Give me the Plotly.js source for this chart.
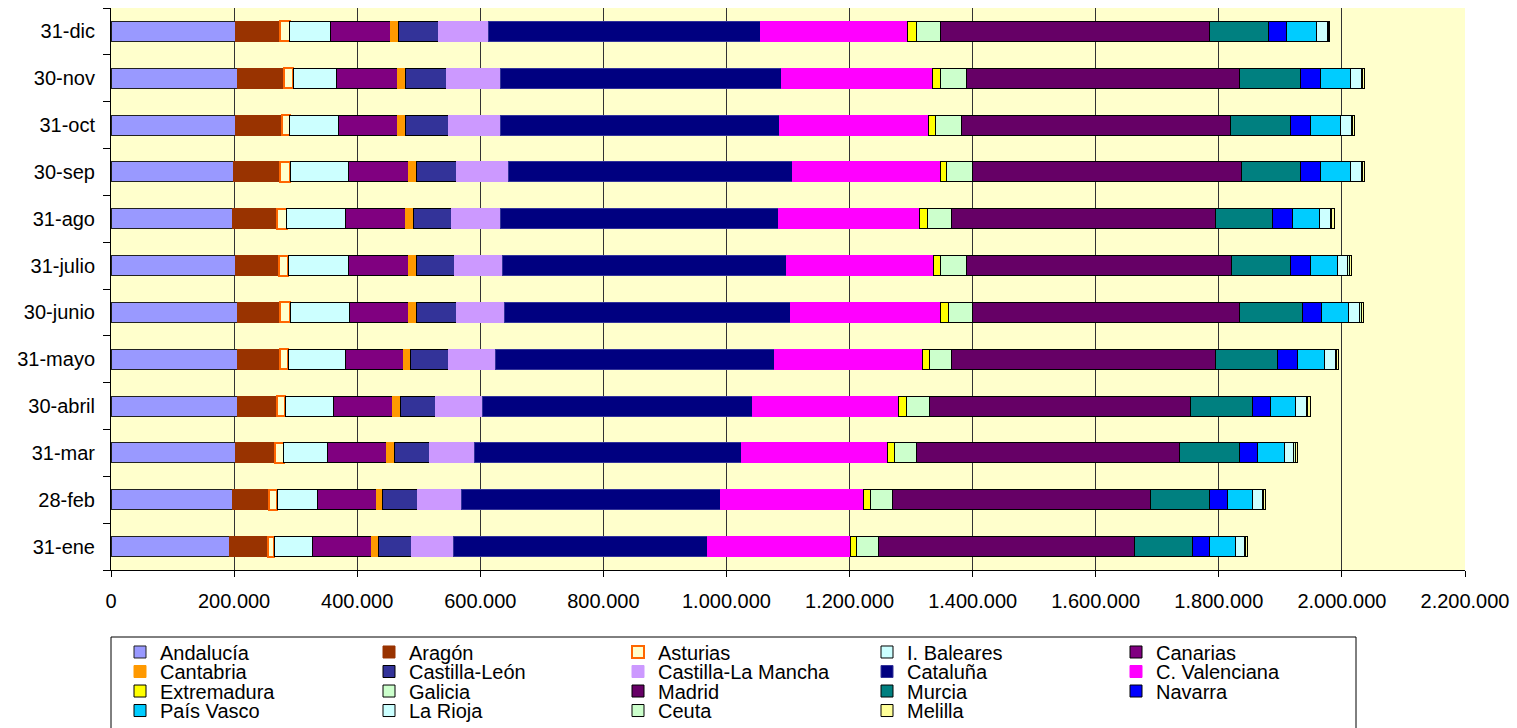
<!DOCTYPE html>
<html>
<head>
<meta charset="utf-8">
<script src="https://cdn.plot.ly/plotly-3.0.1.min.js"></script>
<style>html,body{margin:0;padding:0;background:#fff;}#chart{width:1517px;height:728px;}</style>
</head>
<body>
<div id="chart"></div>
<script>
// Categories, bottom to top
const months = ['31-ene','28-feb','31-mar','30-abril','31-mayo','30-junio','31-julio','31-ago','30-sep','31-oct','30-nov','31-dic'];

const andalucia   = [191800,197100,202000,204800,204800,204800,202000,197100,199400,202000,204800,201500];
const aragon      = [62900,60100,65000,65000,70400,70400,70500,73100,75700,75900,75900,73600];
const asturias    = [10200,13000,13700,13500,13000,15800,15600,15300,15800,12500,15600,15300];
const baleares    = [62900,65700,70900,78700,92100,97000,97000,94700,94300,78500,70500,65500];
const canarias    = [95200,95200,95400,95200,94700,95200,97500,97500,97500,95900,98500,98600];
const cantabria   = [10900,10400,13000,13000,10900,13700,14100,13500,14100,13500,13000,13000];
const castLeon    = [54800,56900,56900,56900,62200,64400,61100,62400,64400,69900,67300,65000];
const castMancha  = [68300,70900,73600,75900,75900,78700,79100,78500,84500,84000,86600,80600];
const cataluna    = [412800,420900,433400,438800,454500,464800,459900,452200,461500,453900,456600,441500];
const valenciana  = [231200,232400,237700,237700,239900,242600,239400,229100,240000,242800,245400,239400];
const extremadura = [10900,10900,10900,13700,10900,13500,10900,13000,10900,10700,13000,14100];
const galicia     = [34600,35800,35800,36200,36200,39000,42300,39700,41600,42300,42300,39000];
const madrid      = [416000,419300,427400,424100,429700,433900,431800,429000,436600,436600,444100,437100];
const murcia      = [95400,95900,98000,101200,100800,101900,95900,92600,95900,98600,98600,95900];
const navarra     = [27000,28800,28800,29300,31400,31400,31400,31900,32500,32500,32500,29300];
const paisVasco   = [41800,41600,44400,41300,43900,43900,44400,43900,48800,47600,48800,48800];
const rioja       = [14600,15300,14600,16700,17900,17900,16900,17400,17900,17900,17900,17900];
const ceuta       = [2400,2300,2500,2600,2500,2500,2600,2700,2400,2200,2300,1500];
const melilla     = [3600,3500,3500,3900,3500,3500,3900,3800,3600,3200,3500,3000];

const xTicks = [0,200000,400000,600000,800000,1000000,1200000,1400000,1600000,1800000,2000000,2200000];

const series = [
  ['Andalucía', andalucia, '#9999FF', '#222222', 1],
  ['Aragón', aragon, '#993300', '#993300', 1],
  ['Asturias', asturias, '#FFFFCC', '#FF6600', 2],
  ['I. Baleares', baleares, '#CCFFFF', '#000000', 1],
  ['Canarias', canarias, '#800080', '#000000', 1],
  ['Cantabria', cantabria, '#FF9900', '#FF9900', 1],
  ['Castilla-León', castLeon, '#333399', '#000000', 1],
  ['Castilla-La Mancha', castMancha, '#CC99FF', '#CC99FF', 1],
  ['Cataluña', cataluna, '#000080', '#333399', 1],
  ['C. Valenciana', valenciana, '#FF00FF', '#FF00FF', 1],
  ['Extremadura', extremadura, '#FFFF00', '#000000', 1],
  ['Galicia', galicia, '#CCFFCC', '#000000', 1],
  ['Madrid', madrid, '#660066', '#000000', 1],
  ['Murcia', murcia, '#008080', '#000000', 1],
  ['Navarra', navarra, '#0000FF', '#000000', 1],
  ['País Vasco', paisVasco, '#00CCFF', '#000000', 1],
  ['La Rioja', rioja, '#CCFFFF', '#000000', 1],
  ['Ceuta', ceuta, '#CCFFCC', '#000000', 1],
  ['Melilla', melilla, '#FFFF99', '#000000', 1]
];

const legendIds = ['legend','legend2','legend3','legend4'];

const traces = series.map((s, i) => ({
  type: 'bar',
  orientation: 'h',
  name: s[0],
  x: s[1],
  y: months,
  marker: {color: s[2], line: {color: s[3], width: s[4]}},
  legend: legendIds[Math.floor(i / 5)],
  hovertemplate: s[0] + ': %{x:,}<extra></extra>'
}));

const FONT = 'Liberation Sans, Arial, Helvetica, sans-serif';
const rowY = [0.1044, 0.0776, 0.0508, 0.0240];
function legendAt(k) {
  return {
    orientation: 'h',
    traceorder: 'normal',
    xref: 'container', yref: 'container',
    x: 120 / 1517, xanchor: 'left',
    y: rowY[k], yanchor: 'middle',
    bgcolor: 'rgba(0,0,0,0)',
    borderwidth: 0,
    itemwidth: 30,
    entrywidth: 204, entrywidthmode: 'pixels',
    font: {family: FONT, size: 20, color: '#000'},
    itemclick: false, itemdoubleclick: false
  };
}

const layout = {
  width: 1517, height: 728,
  margin: {l: 111, r: 52, t: 8, b: 158, pad: 0},
  paper_bgcolor: '#FFFFFF',
  plot_bgcolor: '#FFFFCC',
  barmode: 'stack',
  bargap: 0.57,
  separators: ',.',
  font: {family: FONT, size: 20, color: '#000'},
  xaxis: {
    range: [0, 2200000],
    tickvals: xTicks,
    tickformat: ',d',
    ticks: 'outside', ticklen: 6, tickcolor: '#000', tickwidth: 1,
    ticklabelstandoff: 7,
    showline: true, linecolor: '#000', linewidth: 1,
    showgrid: true, gridcolor: '#333333', gridwidth: 1,
    zeroline: false,
    tickfont: {family: FONT, size: 20, color: '#000'}
  },
  yaxis: {
    type: 'category',
    categoryorder: 'array', categoryarray: months,
    ticks: 'outside', tickson: 'boundaries', ticklen: 7, tickcolor: '#000',
    ticklabelstandoff: 11,
    showline: true, linecolor: '#000', linewidth: 1,
    showgrid: false, zeroline: false,
    tickfont: {family: FONT, size: 20, color: '#000'}
  },
  legend: legendAt(0),
  legend2: legendAt(1),
  legend3: legendAt(2),
  legend4: legendAt(3),
  shapes: [{
    type: 'rect', xref: 'paper', yref: 'paper',
    x0: 0, x1: (1356 - 111) / 1354,
    y0: (570 - 760) / 562, y1: (570 - 637) / 562,
    line: {color: '#000', width: 1}, fillcolor: 'rgba(0,0,0,0)'
  }]
};

Plotly.newPlot('chart', traces, layout, {displayModeBar: false, responsive: false});
</script>
</body>
</html>
